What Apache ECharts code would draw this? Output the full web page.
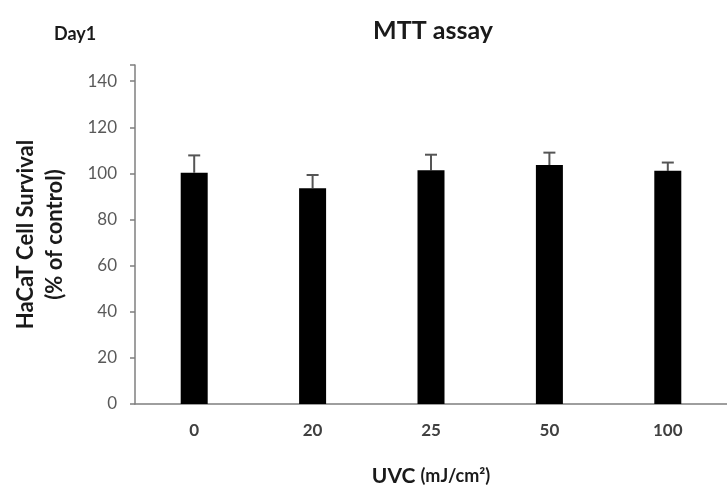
<!DOCTYPE html>
<html>
<head>
<meta charset="utf-8">
<script src="https://cdn.jsdelivr.net/npm/echarts@6/dist/echarts.min.js"></script>
<style>
html,body{margin:0;padding:0;background:#fff;}
#chart{width:727px;height:492px;}
</style>
</head>
<body>
<div id="chart"></div>
<script>
const categories = ['0', '20', '25', '50', '100'];
const survival = [100.3, 93.6, 101.4, 103.6, 101.1];
const errorUpper = [107.8, 99.3, 108.1, 109.0, 104.7];
const yTicks = [0, 20, 40, 60, 80, 100, 120, 140];

const chart = echarts.init(document.getElementById('chart'));
const FONT = 'Lato, "Open Sans", sans-serif';

chart.setOption({
  animation: false,
  backgroundColor: '#ffffff',
  title: [
    { text: 'MTT assay', left: 428, top: 13, textAlign: 'center',
      textStyle: { fontFamily: FONT, fontSize: 25, fontWeight: 'bold', color: '#1a1a1a' } },
    { text: 'Day1', left: 49, top: 20,
      textStyle: { fontFamily: FONT, fontSize: 18, fontWeight: 'bold', color: '#1a1a1a' } }
  ],
  grid: { left: 135, right: -7, top: 65, bottom: 84 },
  xAxis: {
    type: 'category',
    data: categories,
    axisLine: { lineStyle: { color: '#7f7f7f', width: 1.5 } },
    axisTick: { show: false },
    axisLabel: { fontFamily: FONT, fontSize: 17, fontWeight: 'bold', color: '#404040', margin: 18 },
    name: '{a|UVC }{b|(mJ/cm²)}',
    nameLocation: 'middle',
    nameGap: 62,
    nameTextStyle: {
      fontFamily: FONT, fontWeight: 'bold', color: '#1a1a1a',
      rich: {
        a: { fontFamily: FONT, fontSize: 21, fontWeight: 'bold', color: '#1a1a1a' },
        b: { fontFamily: FONT, fontSize: 18, fontWeight: 'bold', color: '#1a1a1a' }
      }
    }
  },
  yAxis: {
    type: 'value',
    min: 0,
    max: 147,
    interval: 20,
    splitLine: { show: false },
    axisLine: { show: true, lineStyle: { color: '#7f7f7f', width: 1.5 } },
    axisTick: { show: true, length: 5, lineStyle: { color: '#7f7f7f', width: 1.5 } },
    axisLabel: {
      fontFamily: FONT, fontSize: 17, color: '#595959', margin: 18,
      formatter: v => yTicks.includes(v) ? String(v) : ''
    },
    name: 'HaCaT Cell Survival\n(% of control)',
    nameLocation: 'middle',
    nameGap: 66,
    nameTextStyle: { fontFamily: FONT, fontSize: 22, fontWeight: 'bold', color: '#1a1a1a', lineHeight: 29 }
  },
  series: [
    {
      type: 'bar',
      data: survival,
      barWidth: 27,
      itemStyle: { color: '#000000' }
    },
    {
      type: 'custom',
      data: categories.map((c, i) => [i, survival[i], errorUpper[i]]),
      z: 1,
      renderItem: function (params, api) {
        const top = api.coord([api.value(0), api.value(2)]);
        const base = api.coord([api.value(0), api.value(1)]);
        const hw = 6;
        const style = { stroke: '#555555', lineWidth: 2 };
        return {
          type: 'group',
          children: [
            { type: 'line', shape: { x1: top[0], y1: base[1], x2: top[0], y2: top[1] }, style },
            { type: 'line', shape: { x1: top[0] - hw, y1: top[1], x2: top[0] + hw, y2: top[1] }, style }
          ]
        };
      }
    }
  ]
});
</script>
</body>
</html>
